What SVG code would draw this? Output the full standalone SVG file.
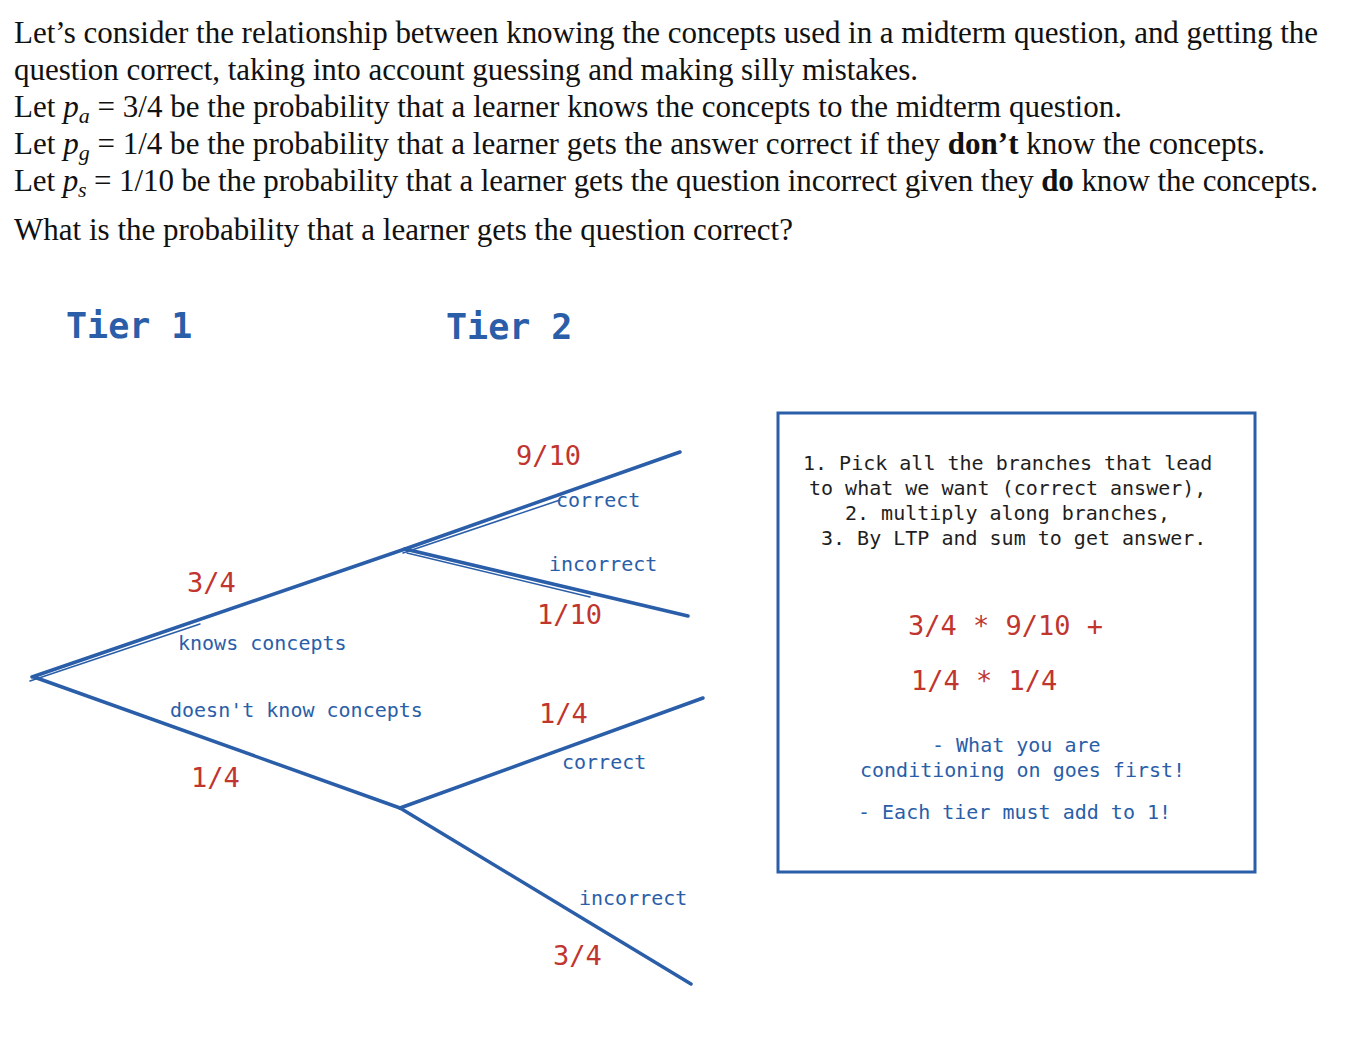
<svg xmlns="http://www.w3.org/2000/svg" width="1362" height="1042" viewBox="0 0 1362 1042">
<style>
.hd{font-family:"Liberation Serif","Times New Roman",serif;font-size:31px;fill:#111}
.it{font-style:italic}
.b{font-weight:bold}
.tier{font-family:"DejaVu Sans Mono","Liberation Mono",monospace;font-size:35px;font-weight:bold;fill:#2a5ea8}
.lab{font-family:"DejaVu Sans Mono","Liberation Mono",monospace;font-size:20px;fill:#2a5ea8}
.num{font-family:"DejaVu Sans Mono","Liberation Mono",monospace;font-size:27px;fill:#c0352e}
.note{font-family:"DejaVu Sans Mono","Liberation Mono",monospace;font-size:20px;fill:#1e1e1e}
.edge{stroke:#2a5ea8;stroke-width:3.5;stroke-linecap:round;fill:none}
.thin{stroke:#2a5ea8;stroke-width:1.5;stroke-linecap:round;fill:none}
</style>
<rect width="1362" height="1042" fill="#fff"/>
<g id="header">
<text class="hd" x="14" y="43" textLength="1304">Let’s consider the relationship between knowing the concepts used in a midterm question, and getting the</text>
<text class="hd" x="14" y="80" textLength="904">question correct, taking into account guessing and making silly mistakes.</text>
<text class="hd" x="14" y="117" textLength="1108">Let <tspan class="it">p</tspan><tspan class="it" font-size="22" dy="6">a</tspan><tspan dy="-6"> = 3/4 be the probability that a learner knows the concepts to the midterm question.</tspan></text>
<text class="hd" x="14" y="154" textLength="1251">Let <tspan class="it">p</tspan><tspan class="it" font-size="22" dy="6">g</tspan><tspan dy="-6"> = 1/4 be the probability that a learner gets the answer correct if they </tspan><tspan class="b">don’t</tspan> know the concepts.</text>
<text class="hd" x="14" y="191" textLength="1304">Let <tspan class="it">p</tspan><tspan class="it" font-size="22" dy="6">s</tspan><tspan dy="-6"> = 1/10 be the probability that a learner gets the question incorrect given they </tspan><tspan class="b">do</tspan> know the concepts.</text>
<text class="hd" x="14" y="240" textLength="779">What is the probability that a learner gets the question correct?</text>
</g>
<g id="tier1"><text class="tier" x="66" y="338">Tier 1</text></g>
<g id="tier2"><text class="tier" x="446" y="339">Tier 2</text></g>
<g id="connectors">
<line class="edge" x1="32" y1="677" x2="405" y2="549"/>
<line class="thin" x1="30" y1="681" x2="200" y2="624"/>
<line class="edge" x1="34" y1="677" x2="400" y2="808"/>
<line class="edge" x1="405" y1="549" x2="680" y2="452"/>
<line class="thin" x1="403" y1="553" x2="560" y2="500"/>
<line class="edge" x1="405" y1="549" x2="688" y2="616"/>
<line class="thin" x1="407" y1="553" x2="590" y2="597"/>
<line class="edge" x1="400" y1="808" x2="703" y2="698"/>
<line class="edge" x1="400" y1="808" x2="691" y2="984"/>
</g>
<g id="edge-labels">
<text class="num" x="516" y="465">9/10</text>
<text class="lab" x="556" y="507">correct</text>
<text class="lab" x="549" y="571">incorrect</text>
<text class="num" x="537" y="624">1/10</text>
<text class="num" x="187" y="592">3/4</text>
<text class="lab" x="178" y="650">knows concepts</text>
<text class="lab" x="170" y="717">doesn't know concepts</text>
<text class="num" x="191" y="787">1/4</text>
<text class="num" x="539" y="723">1/4</text>
<text class="lab" x="562" y="769">correct</text>
<text class="lab" x="579" y="905">incorrect</text>
<text class="num" x="553" y="965">3/4</text>
</g>
<g id="notes">
<rect x="778" y="413" width="477" height="459" fill="none" stroke="#2a5ea8" stroke-width="3"/>
<text class="note" x="803" y="470">1. Pick all the branches that lead</text>
<text class="note" x="809" y="495">to what we want (correct answer),</text>
<text class="note" x="845" y="520">2. multiply along branches,</text>
<text class="note" x="821" y="545">3. By LTP and sum to get answer.</text>
<text class="num" x="908" y="635">3/4 * 9/10 +</text>
<text class="num" x="911" y="690">1/4 * 1/4</text>
<text class="lab" x="932" y="752">- What you are</text>
<text class="lab" x="860" y="777">conditioning on goes first!</text>
<text class="lab" x="858" y="819">- Each tier must add to 1!</text>
</g>
</svg>
